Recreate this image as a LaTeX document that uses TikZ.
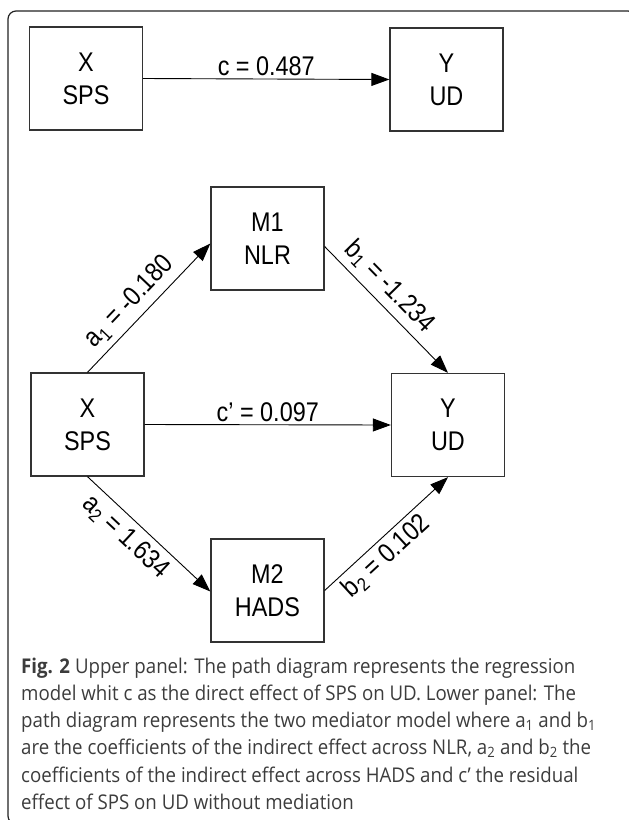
\documentclass[tikz,border=0pt]{standalone}
\usepackage{fontspec}
\setmainfont[FakeStretch=0.867]{Liberation Sans}
\newfontfamily\capfont[FakeStretch=0.92]{Open Sans}
\usetikzlibrary{arrows.meta}
\definecolor{boxline}{HTML}{333333}
\definecolor{captext}{HTML}{3C3C3C}
\definecolor{frameline}{HTML}{222222}
\begin{document}
\begin{tikzpicture}[x=1pt,y=-1pt,
  varbox/.style={draw=boxline, line width=1.3pt, minimum width=113pt, minimum height=103pt,
    align=center, font=\fontsize{27}{33}\selectfont, inner sep=0pt},
  path/.style={draw=black, line width=0.9pt, -{Triangle[length=18pt,width=13pt]}},
  plabel/.style={font=\fontsize{27}{30}\selectfont, inner sep=0pt},
  capline/.style={anchor=west, inner sep=0pt, text=captext, font=\capfont\fontsize{20.3}{26.8}\selectfont}]
\useasboundingbox (0,0) rectangle (629,820);
% frame
\draw[frameline, line width=1.2pt, rounded corners=8pt] (8,11) rectangle (636,824);
% upper panel
\node[varbox] (xa) at (86,78.5) {X\\SPS};
\node[varbox] (ya) at (446.5,79.5) {Y\\UD};
\draw[path] (xa.east) -- node[plabel, above=3pt] {c = 0.487} (ya.west);
% lower panel
\node[varbox] (m1) at (267.5,238.5) {M1\\NLR};
\node[varbox] (xb) at (87.5,424.5) {X\\SPS};
\node[varbox] (yb) at (448,425) {Y\\UD};
\node[varbox] (m2) at (267.5,590.5) {M2\\HADS};
\draw[path] (xb.east) -- node[plabel, above=3pt] {c' = 0.097} (yb.west);
\draw[path] (xb.north) -- node[plabel, sloped, above=6pt, pos=0.45] {a\textsubscript{1} = -0.180} ([yshift=-5pt]m1.west);
\draw[path] ([yshift=-8pt]m1.east) -- node[plabel, sloped, above=6pt, pos=0.42] {b\textsubscript{1} = -1.234} (yb.north);
\draw[path] (xb.south) -- node[plabel, sloped, below=6pt, pos=0.41] {a\textsubscript{2} = 1.634} ([yshift=-1pt]m2.west);
\draw[path] (m2.east) -- node[plabel, sloped, below=4pt, pos=0.41] {b\textsubscript{2} = 0.102} (yb.south);
% caption
\node[capline] (c1) at (21,668) {\textbf{Fig. 2} Upper panel: The path diagram represents the regression};
\node[capline] (c2) at (21,695) {model whit c as the direct effect of SPS on UD. Lower panel: The};
\node[capline] (c3) at (21,722) {path diagram represents the two mediator model where a\textsubscript{1} and b\textsubscript{1}};
\node[capline] (c4) at (21,748) {are the coefficients of the indirect effect across NLR, a\textsubscript{2} and b\textsubscript{2} the};
\node[capline] (c5) at (21,775) {coefficients of the indirect effect across HADS and c’ the residual};
\node[capline] (c6) at (21,802) {effect of SPS on UD without mediation};
\end{tikzpicture}
\end{document}
